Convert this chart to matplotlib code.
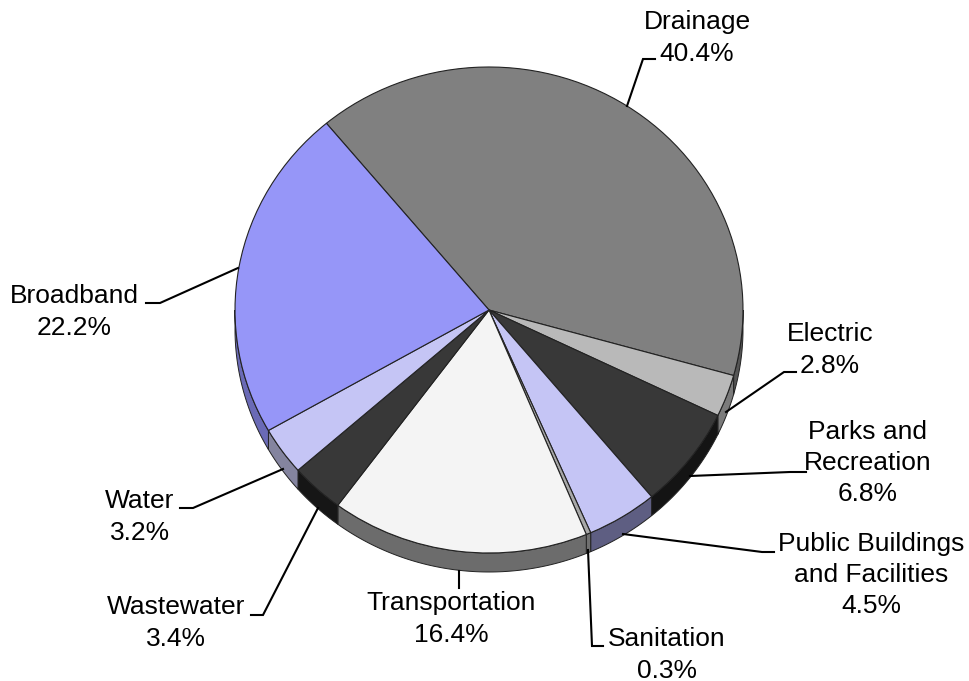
import numpy as np
import matplotlib
matplotlib.use("Agg")
import matplotlib.pyplot as plt
from matplotlib.patches import Polygon

plt.rcParams['font.family'] = ['Liberation Sans', 'DejaVu Sans']

categories = ["Drainage", "Electric", "Parks and\nRecreation", "Public Buildings\nand Facilities",
              "Sanitation", "Transportation", "Wastewater", "Water", "Broadband"]
shares = [40.4, 2.8, 6.8, 4.5, 0.3, 16.4, 3.4, 3.2, 22.2]
top_colors = ["#808080", "#b9b9b9", "#383838", "#c5c5f5", "#a8a8a8", "#f4f4f4", "#383838", "#c5c5f5", "#9696f8"]
wall_colors = ["#555555", "#7b7b7b", "#141414", "#5e5e82", "#707070", "#6c6c6c", "#161616", "#84849f", "#6a6ab6"]

# layout (pixels of the 970x681 figure)
CX, CY, RX, RY, DEPTH = 489, 310, 254, 243, 19
START = 129.8
label_xy = [(697, 38), (830, 350), (868, 463), (871, 575), (667, 655),
            (451, 619), (176, 623), (140, 517), (74, 312)]
leaders = [
    [(627, 106), (643, 59), (655, 59)],
    [(726, 412), (784, 372), (796, 372)],
    [(690, 476), (790, 472), (806, 472)],
    [(623, 534), (762, 552), (774, 552)],
    [(588, 550), (592, 646), (603, 646)],
    [(459, 571), (459, 588)],
    [(318, 508), (263, 615), (251, 615)],
    [(283, 469), (193, 508), (180, 508)],
    [(238, 268), (160, 303), (146, 303)],
]

fig = plt.figure(figsize=(9.7, 6.81), dpi=100, facecolor="white")
ax = fig.add_axes([0, 0, 1, 1])
ax.pie(shares, colors=top_colors, startangle=START, counterclock=False, radius=1,
       wedgeprops=dict(edgecolor="#222222", linewidth=0.8, zorder=3))
ax.set_aspect("auto")
ax.set_xlim(-CX / RX, (970 - CX) / RX)
ax.set_ylim((CY - 681) / RY, CY / RY)
ax.axis("off")

# side walls of the disc, one per slice, taken from the same shares
dz = DEPTH / RY
edges = START - np.cumsum([0] + shares) * 3.6
for hi, lo, col in zip(edges[:-1], edges[1:], wall_colors):
    # keep the part of the slice's arc on the front half of the disc (180..360 deg)
    for shift in (0, -360):
        a = min(hi + shift + 360, 360)
        b = max(lo + shift + 360, 180)
        if a <= b:
            continue
        t = np.radians(np.linspace(a, b, 80))
        x, y = np.cos(t), np.sin(t)
        pts = np.r_[np.c_[x, y], np.c_[x, y - dz][::-1]]
        ax.add_patch(Polygon(pts, closed=True, facecolor=col, edgecolor="#222222",
                             linewidth=0.7, zorder=2))

# labels and leader lines in pixel coordinates
ov = fig.add_axes([0, 0, 1, 1], facecolor="none")
ov.set_xlim(0, 970)
ov.set_ylim(681, 0)
ov.axis("off")
for cat, val, (x, y), path in zip(categories, shares, label_xy, leaders):
    px, py = zip(*path)
    ov.plot(px, py, color="black", lw=1.5, solid_joinstyle="miter")
    ov.text(x, y, f"{cat}\n{val:.1f}%", ha="center", va="center", fontsize=19,
            color="black", linespacing=1.37, multialignment="center")

fig.savefig("out.png", dpi=100, facecolor="white")
